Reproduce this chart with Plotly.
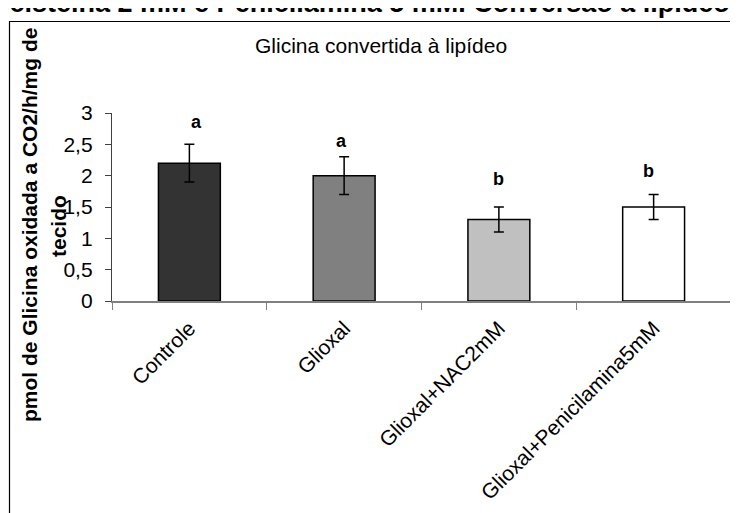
import plotly.graph_objects as go

categories = ["Controle", "Glioxal", "Glioxal+NAC2mM", "Glioxal+Penicilamina5mM"]
values = [2.2, 2.0, 1.3, 1.5]
errors = [0.3, 0.3, 0.2, 0.2]
bar_colors = ["#333333", "#808080", "#c0c0c0", "#ffffff"]
letters = ["a", "a", "b", "b"]
letter_y = [2.85, 2.55, 1.95, 2.07]
letter_xshift = [7, -3, 0, -5]
y_ticks = [0, 0.5, 1, 1.5, 2, 2.5, 3]
y_tick_labels = ["0", "0,5", "1", "1,5", "2", "2,5", "3"]

FONT = "Liberation Sans, Arial, sans-serif"

# plot area in page pixels: x 112..731, y 113..301 (page has an 8px body margin)
PX0, PW, PY0, PH = 112, 619, 301, 188


def px(x):
    return (x - PX0) / PW


def py(y):
    return (PY0 - y) / PH


fig = go.Figure()
fig.add_trace(go.Bar(
    x=categories, y=values,
    marker=dict(color=bar_colors, line=dict(color="#000000", width=1.5)),
    error_y=dict(type="data", array=errors, visible=True, color="#000000", thickness=1.5, width=5),
    showlegend=False,
))

for c, t, yy, xs in zip(categories, letters, letter_y, letter_xshift):
    fig.add_annotation(x=c, y=yy, text="<b>%s</b>" % t, showarrow=False, xshift=xs,
                       font=dict(family=FONT, size=18, color="#000000"))

# subtitle inside box
fig.add_annotation(xref="paper", yref="paper", x=px(381), y=py(45),
                   text="Glicina convertida à lipídeo", showarrow=False,
                   xanchor="center", yanchor="middle",
                   font=dict(family=FONT, size=21, color="#000000"))

# y-axis title (two lines)
fig.add_annotation(xref="paper", yref="paper", x=px(29), y=py(225),
                   text="<b>pmol de Glicina oxidada a CO2/h/mg de</b>", showarrow=False,
                   textangle=-90, xanchor="center", yanchor="middle",
                   font=dict(family=FONT, size=21, color="#000000"))
fig.add_annotation(xref="paper", yref="paper", x=px(58), y=py(226),
                   text="<b>tecido</b>", showarrow=False,
                   textangle=-90, xanchor="center", yanchor="middle",
                   font=dict(family=FONT, size=21, color="#000000"))

# cropped page title at the top
fig.add_annotation(xref="paper", yref="paper", x=px(732), y=py(20),
                   text="<b>N-acetilcisteína 2 mM e Penicilamina 5 mM. Conversão à lipídeo</b>",
                   showarrow=False, xanchor="right", yanchor="bottom",
                   font=dict(family=FONT, size=27, color="#000000"))

# chart border box (partly outside the view)
fig.add_shape(type="rect", xref="paper", yref="paper",
              x0=px(9.5), x1=px(760), y0=py(540), y1=py(21.5),
              line=dict(color="#000000", width=1.2), fillcolor="rgba(0,0,0,0)", layer="below")

fig.update_layout(
    width=730, height=505,
    margin=dict(l=104, r=7, t=105, b=212, autoexpand=False),
    paper_bgcolor="#ffffff", plot_bgcolor="#ffffff",
    bargap=0.6,
    font=dict(family=FONT, color="#000000"),
    xaxis=dict(type="category", tickson="boundaries", ticks="outside", ticklen=7,
               tickcolor="#808080", tickwidth=1.3, showline=True, linecolor="#808080", linewidth=1.5,
               tickangle=-45, tickfont=dict(family=FONT, size=21, color="#000000"),
               showgrid=False, zeroline=False, ticklabelstandoff=5, automargin=False),
    yaxis=dict(range=[0, 3], tickvals=y_ticks, ticktext=y_tick_labels, ticks="outside",
               ticklen=6, tickcolor="#404040", tickwidth=1.3, showline=True, linecolor="#404040",
               linewidth=1.3, tickfont=dict(family=FONT, size=21, color="#000000"),
               showgrid=False, zeroline=False, ticklabelstandoff=8, automargin=False),
)

fig.write_html("out.html")
